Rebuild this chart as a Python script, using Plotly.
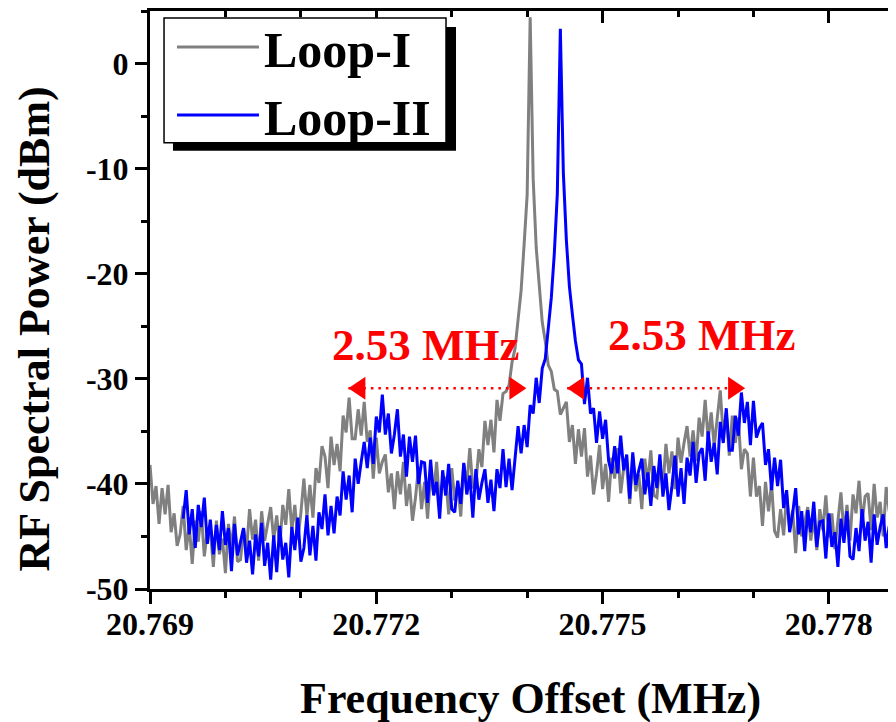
import numpy as np
import plotly.graph_objects as go

# ---------------- data ----------------
freq_start = 20.769      # MHz, first sample of the analyser sweep
freq_step = 0.00004      # MHz per sample
blue_first = 11          # Loop-II trace starts at this sample

loop1_dbm = [
    -38.2, -41.9, -40.2, -43.8, -40.4, -42.9, -40.1, -44.6, -42.8, -45.9,
    -44.8, -42.1, -46.3, -43.9, -47.6, -43.5, -45.5, -42.6, -46.9, -44.5,
    -44.4, -47.9, -43.5, -46.7, -45.2, -48.5, -43.8, -46.1, -43.1, -47.4,
    -47.2, -44.2, -46.3, -42.4, -45.3, -43.4, -47.3, -42.6, -45.4, -43.6,
    -42.2, -45.3, -43.0, -46.0, -42.0, -43.9, -40.5, -44.4, -42.0, -45.3,
    -42.8, -39.5, -43.1, -40.1, -43.2, -38.5, -39.9, -36.4,
    -37.4, -40.4, -35.5, -38.2, -36.2, -38.8, -33.5, -35.1, -31.8, -35.7,
    -35.7, -32.9, -35.4, -32.2, -36.0, -34.9, -39.5, -35.6, -39.0, -37.9,
    -37.2, -40.8, -39.0, -42.4, -38.8, -41.0, -37.9, -42.1, -40.0, -43.5,
    -41.3, -38.4, -42.4, -39.8, -43.3, -39.0, -40.9, -37.9, -42.1, -39.6,
    -39.4, -42.9, -38.5, -41.6, -40.0, -43.1, -38.1, -40.1, -36.6, -40.4,
    -40.0, -36.7, -38.4, -34.0, -36.3, -33.9, -37.0, -32.0, -34.0, -31.4,
    -31.2, -30.6, -28.4, -27.1, -24.0, -21.6, -17.2, -12.5,
    4.4,
    -11.0, -17.5, -21.2, -24.6, -26.4, -28.7, -29.3, -31.0, -31.2, -33.4, -32.8,
    -32.2, -36.0, -34.4, -38.1, -34.8, -37.4, -34.7, -39.3, -37.3, -41.0,
    -39.0, -36.3, -40.5, -38.1, -41.7, -37.5, -39.5, -36.6, -40.9, -38.5,
    -38.3, -41.9, -37.5, -40.7, -39.1, -42.4, -37.6, -39.9, -36.8, -41.1,
    -41.3, -38.2, -40.4, -36.2, -39.0, -36.9, -40.5, -35.6, -38.0, -36.1,
    -34.5, -37.4, -34.9, -37.8, -33.7, -35.5, -32.0, -35.8, -33.2, -36.4,
    -33.8, -31.1, -35.4, -33.3, -37.3, -33.5, -36.1, -33.7, -38.6, -36.7,
    -37.1, -41.2, -37.5, -41.2, -40.2, -44.0, -39.8, -42.6, -39.9, -44.5,
    -45.1, -42.4, -44.9, -41.1, -44.2, -42.5, -46.6, -42.1, -45.0, -43.4,
    -42.2, -45.4, -43.2, -46.3, -42.4, -44.4, -41.1, -45.1, -42.8, -46.2,
    -43.8, -40.8, -44.7, -42.0, -45.4, -41.0, -42.8, -39.7, -43.8, -41.2,
    -40.9, -44.4, -40.0, -43.2, -41.7, -45.0, -40.3, -42.6, -39.6, -43.9,
]

loop2_dbm = [
    -43.3, -40.6, -44.8, -42.4, -46.1, -42.0, -44.1, -41.3, -45.7, -43.4,
    -46.7, -43.9, -46.3, -42.6, -45.8, -44.2, -48.3, -43.8, -46.8, -45.4,
    -44.2, -47.5, -45.4, -48.6, -44.8, -46.9, -43.7, -47.8, -45.6, -49.1,
    -44.9, -48.4, -44.0, -47.2, -45.6, -48.9, -44.1, -46.3, -43.2, -47.4,
    -46.1, -43.0, -46.8, -44.0, -47.3, -42.7, -44.3, -41.0, -44.9, -42.1,
    -44.7, -41.2, -43.0, -38.8, -41.5, -39.2, -42.7, -37.6, -40.0, -37.9,
    -36.0, -38.5, -35.6, -38.1, -33.6, -35.1, -31.5, -35.3, -33.3, -37.1,
    -35.3, -32.9, -37.4, -35.3, -39.3, -35.5, -37.9, -35.4, -40.0, -37.9,
    -38.0, -41.8, -37.7, -41.1, -39.8, -43.3, -38.7, -41.1, -38.1, -42.4,
    -42.7, -39.7, -41.9, -38.0, -41.0, -39.2, -43.2, -38.6, -41.5, -39.9,
    -38.6, -41.8, -39.6, -42.6, -38.6, -40.4, -36.7, -40.3, -37.6, -40.6,
    -37.4, -34.5, -37.1, -34.4, -36.5, -32.5, -33.3, -29.9, -32.3, -29.0,
    -28.1, -25.4, -22.3, -18.1, -12.4,
    3.3,
    -10.4, -16.8, -21.2, -23.9, -26.4, -28.2,
    -28.6, -32.4, -29.9, -33.3, -32.8, -36.1, -33.1, -35.7, -33.9, -37.8,
    -39.0, -36.4, -39.0, -35.4, -38.7, -37.2, -41.4, -37.0, -40.1, -38.7,
    -37.6, -41.0, -38.9, -42.1, -38.3, -40.4, -37.2, -41.2, -39.0, -42.5,
    -40.2, -37.3, -41.2, -38.5, -41.9, -37.5, -39.2, -36.0, -39.9, -37.1,
    -36.6, -39.7, -35.0, -37.9, -36.1, -39.1, -34.1, -36.1, -32.8, -36.8,
    -36.8, -33.5, -35.4, -31.3, -34.2, -32.2, -36.3, -32.1, -35.6, -34.7,
    -34.2, -38.2, -36.7, -40.6, -37.5, -40.2, -37.7, -42.3, -40.6, -44.6,
    -42.8, -40.4, -44.8, -42.6, -46.4, -42.5, -44.6, -41.7, -46.0, -43.6,
    -43.5, -47.1, -42.8, -46.0, -44.6, -47.9, -43.3, -45.6, -42.6, -46.9,
    -47.2, -44.2, -46.4, -42.4, -45.4, -43.6, -47.5, -42.9, -45.8, -44.1,
    -42.9, -46.1, -44.0, -47.1, -43.3,
]

series_names = ["Loop-I", "Loop-II"]
x_tick_vals = [20.769, 20.772, 20.775, 20.778]
x_tick_text = ["20.769", "20.772", "20.775", "20.778"]
y_tick_vals = [-50, -40, -30, -20, -10, 0]
y_tick_text = ["-50", "-40", "-30", "-20", "-10", "0"]
x_range = [20.769, 20.77889]
y_range = [-50, 5]

# annotation: spacing arrows (MHz) and labels
arrow_spans = [(20.77163, 20.77399), (20.77453, 20.77689)]
arrow_level = -30.9
label_text = ["2.53 MHz", "2.53 MHz"]
label_x = [20.772646, 20.776318]
label_y = [-26.8, -25.8]

# ---------------- figure ----------------
n1 = len(loop1_dbm)
freq = freq_start + freq_step * np.arange(n1)
freq2 = freq[blue_first:blue_first + len(loop2_dbm)]

FONT = "Liberation Serif"
fig = go.Figure()
fig.add_trace(go.Scatter(x=freq, y=loop1_dbm, mode="lines", name=series_names[0],
                         line=dict(color="#808080", width=3)))
fig.add_trace(go.Scatter(x=freq2, y=loop2_dbm, mode="lines", name=series_names[1],
                         line=dict(color="#0000FF", width=3)))
# helper (empty) trace for mirrored top/right axes
fig.add_trace(go.Scatter(x=[], y=[], xaxis="x2", yaxis="y2", showlegend=False,
                         hoverinfo="skip"))

tickfont = dict(family=FONT, size=32, color="black", weight="bold")

# page body has an 8px margin: figure is 888x714 so it fills the 896x722 window
fig.update_layout(
    width=888, height=714,
    margin=dict(l=142, r=0, t=2, b=133),
    paper_bgcolor="white", plot_bgcolor="white",
    xaxis=dict(range=x_range, showline=True, linewidth=3, linecolor="black",
               ticks="outside", ticklen=12, tickwidth=3, tickcolor="black",
               tickvals=x_tick_vals, ticktext=x_tick_text, tickfont=tickfont,
               ticklabelstandoff=-7,
               minor=dict(dtick=0.001, tick0=20.769, ticks="outside", ticklen=6,
                          tickwidth=2.5, tickcolor="black"),
               showgrid=False, zeroline=False),
    xaxis2=dict(range=x_range, overlaying="x", side="top", showline=True,
                linewidth=3, linecolor="black", ticks="inside", ticklen=12,
                tickwidth=3, tickcolor="black", tickvals=x_tick_vals,
                showticklabels=False,
                minor=dict(dtick=0.001, tick0=20.769, ticks="inside", ticklen=6,
                           tickwidth=2.5, tickcolor="black"),
                showgrid=False, zeroline=False),
    yaxis=dict(range=y_range, showline=True, linewidth=3, linecolor="black",
               ticks="outside", ticklen=12, tickwidth=3, tickcolor="black",
               tickvals=y_tick_vals, ticktext=y_tick_text, tickfont=tickfont,
               minor=dict(dtick=5, tick0=0, ticks="outside", ticklen=6,
                          tickwidth=2.5, tickcolor="black"),
               showgrid=False, zeroline=False),
    yaxis2=dict(range=y_range, overlaying="y", side="right", showline=False,
                ticks="inside", ticklen=4, tickwidth=3, tickcolor="black",
                tickvals=y_tick_vals, showticklabels=False,
                showgrid=False, zeroline=False),
    showlegend=True,
    legend=dict(x=0.0295, y=1.005, xanchor="left", yanchor="top",
                bgcolor="rgba(0,0,0,0)", borderwidth=0,
                font=dict(family=FONT, size=50, color="black", weight="bold"),
                itemwidth=82, tracegroupgap=0),
)

# legend frame with drop shadow
fig.add_shape(type="rect", xref="paper", yref="paper", x0=0.0308, x1=0.4102,
              y0=0.7582, y1=0.9724, fillcolor="black", line=dict(width=0),
              layer="above")
fig.add_shape(type="rect", xref="paper", yref="paper", x0=0.0188, x1=0.3968,
              y0=0.7720, y1=0.9879, fillcolor="white",
              line=dict(color="black", width=1.5), layer="above")

# axis titles
title_font = dict(family=FONT, size=44, color="black", weight="bold")
fig.add_annotation(text="Frequency Offset (MHz)", xref="paper", yref="paper",
                   x=0.5107, y=-0.19, xanchor="center", yanchor="middle",
                   showarrow=False, font=title_font)
fig.add_annotation(text="RF Spectral Power (dBm)", xref="paper", yref="paper",
                   x=-0.1555, y=0.4508, xanchor="center", yanchor="middle",
                   textangle=-90, showarrow=False, font=title_font)

# red spacing labels
for t, lx, ly in zip(label_text, label_x, label_y):
    fig.add_annotation(text=t, x=lx, y=ly, xref="x", yref="y", showarrow=False,
                       xanchor="center", yanchor="middle",
                       font=dict(family=FONT, size=45, color="#FF0000", weight="bold"))

# red dotted double arrows
for x0, x1 in arrow_spans:
    fig.add_shape(type="line", xref="x", yref="y", x0=x0, x1=x1,
                  y0=arrow_level, y1=arrow_level,
                  line=dict(color="#FF0000", width=2.5, dash="2.5px,5px"))
    fig.add_shape(type="path", xref="x", yref="y", xsizemode="pixel",
                  ysizemode="pixel", xanchor=x0, yanchor=arrow_level,
                  path="M0,0 L17,11.5 L17,-11.5 Z", fillcolor="#FF0000",
                  line=dict(width=0))
    fig.add_shape(type="path", xref="x", yref="y", xsizemode="pixel",
                  ysizemode="pixel", xanchor=x1, yanchor=arrow_level,
                  path="M0,0 L-17,11.5 L-17,-11.5 Z", fillcolor="#FF0000",
                  line=dict(width=0))

fig.write_html("out.html")
